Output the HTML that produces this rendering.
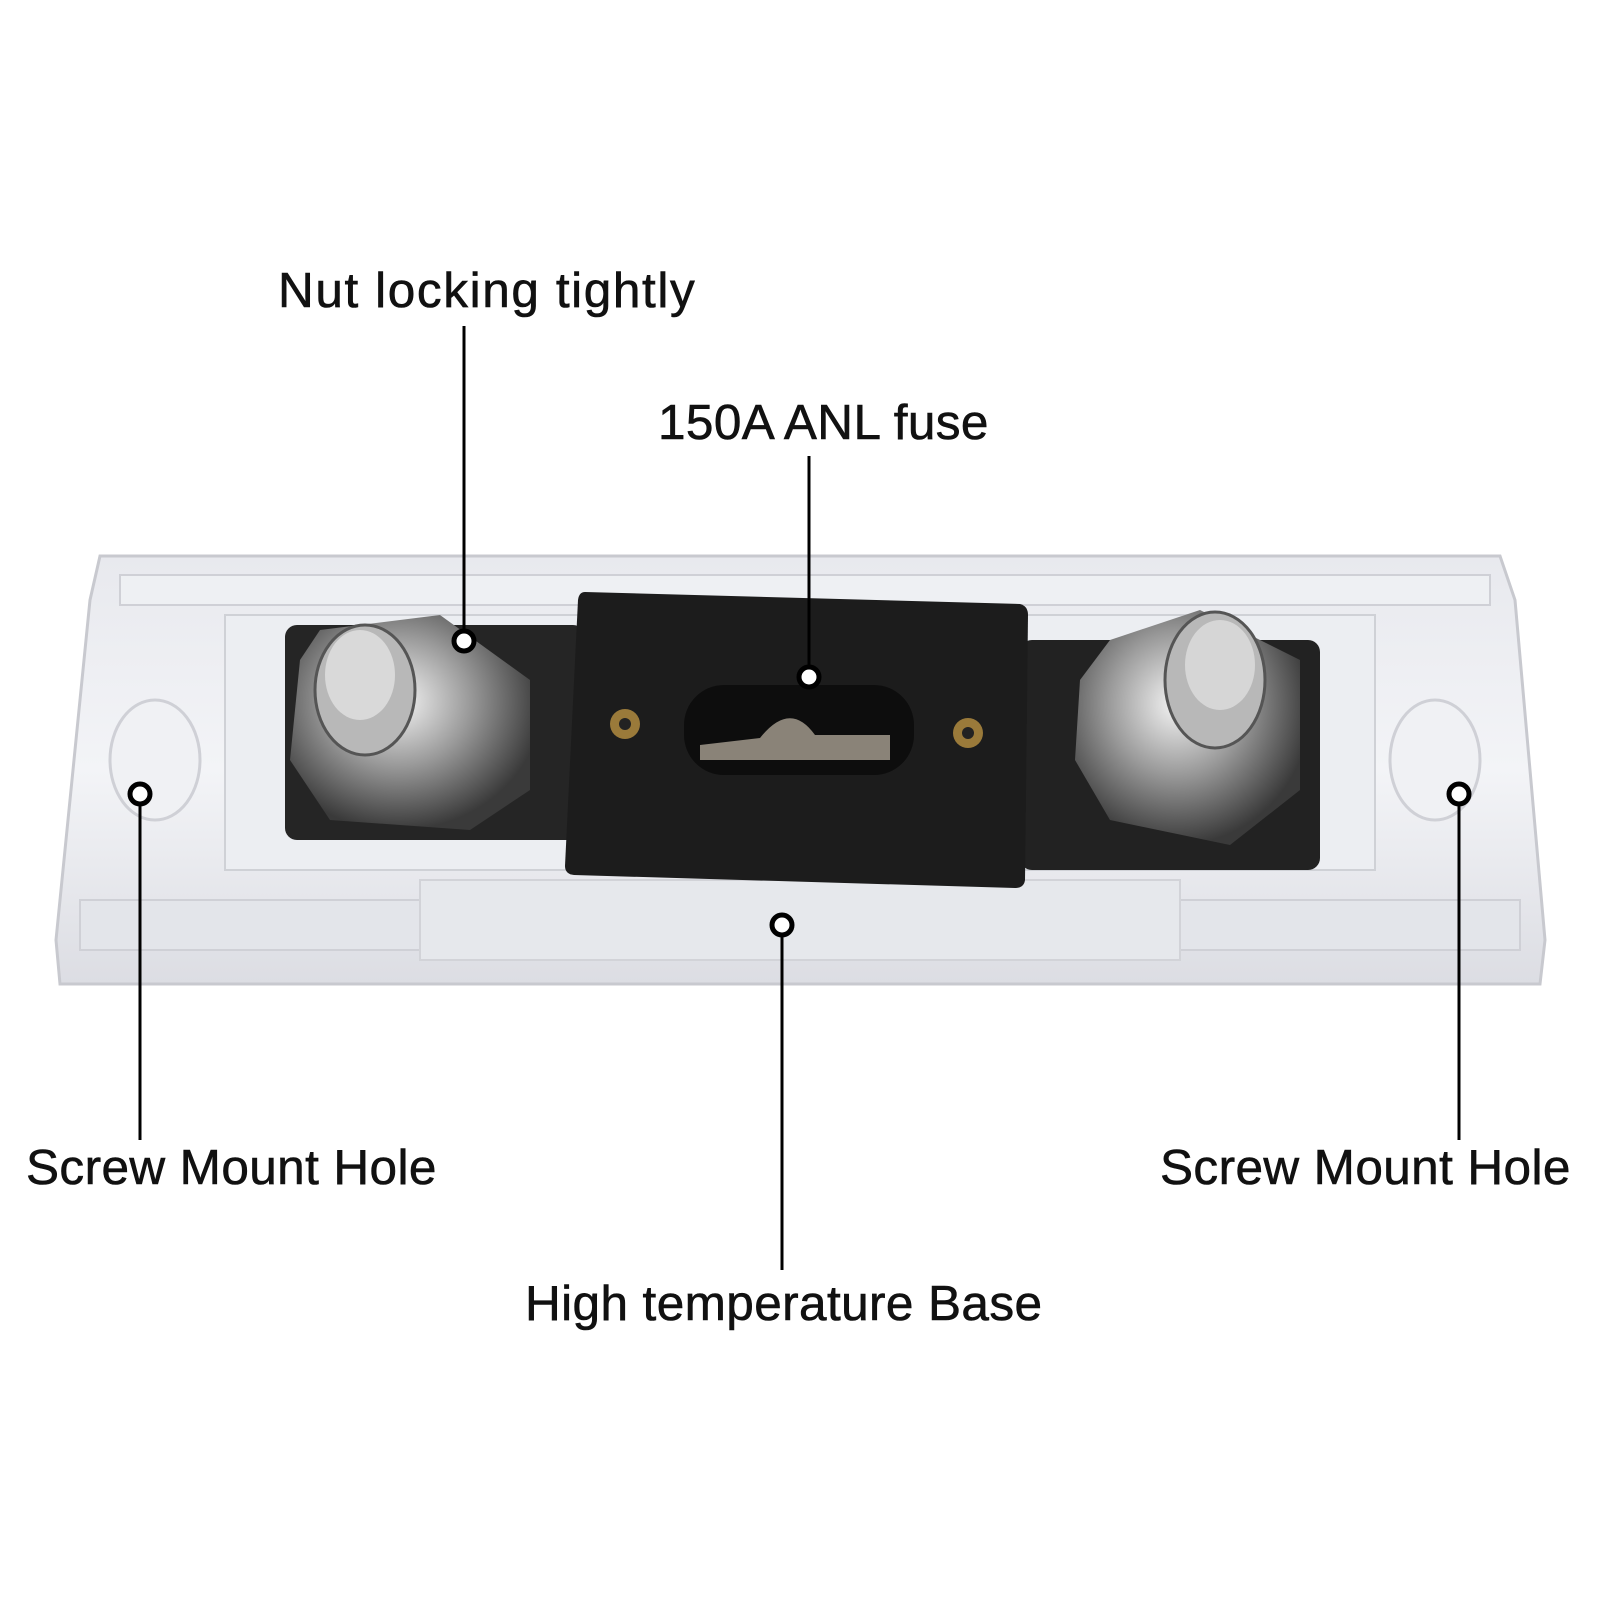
<!DOCTYPE html>
<html><head><style>
html,body{margin:0;padding:0;background:#fff;}
.t{position:absolute;font-family:"Liberation Sans",sans-serif;font-size:49.5px;letter-spacing:0.4px;color:#111;white-space:nowrap;line-height:1;-webkit-text-stroke:0.6px #111;}
</style></head><body>
<div style="position:relative;width:1600px;height:1600px;overflow:hidden;">
<svg width="1600" height="1600" style="position:absolute;left:0;top:0">
<defs>
<linearGradient id="base" x1="0" y1="0" x2="0" y2="1">
<stop offset="0" stop-color="#e8e9ee"/><stop offset="0.5" stop-color="#f3f4f7"/><stop offset="1" stop-color="#dcdde3"/></linearGradient>
<radialGradient id="nut" cx="0.45" cy="0.4" r="0.6">
<stop offset="0" stop-color="#f4f4f4"/><stop offset="0.5" stop-color="#9a9a9a"/><stop offset="1" stop-color="#3a3a3a"/></radialGradient>
</defs>
<path d="M100 556 L1500 556 L1515 600 L1545 940 L1540 984 L60 984 L56 940 L90 600 Z" fill="url(#base)" stroke="#c8c9cf" stroke-width="3"/>
<rect x="120" y="575" width="1370" height="30" fill="#eef0f3" stroke="#cfd0d6" stroke-width="2"/>
<rect x="225" y="615" width="1150" height="255" fill="#eceef2" stroke="#cfd1d6" stroke-width="2"/>
<rect x="80" y="900" width="1440" height="50" fill="#e3e5ea" stroke="#cfd0d6" stroke-width="2"/>
<rect x="420" y="880" width="760" height="80" fill="#e6e8ec" stroke="#d2d3d8" stroke-width="2"/>
<ellipse cx="155" cy="760" rx="45" ry="60" fill="#f0f1f4" stroke="#cfd0d6" stroke-width="3"/>
<ellipse cx="1435" cy="760" rx="45" ry="60" fill="#f0f1f4" stroke="#cfd0d6" stroke-width="3"/>
<rect x="285" y="625" width="300" height="215" rx="12" fill="#252525"/>
<rect x="1020" y="640" width="300" height="230" rx="12" fill="#222"/>
<path d="M320 630 L440 615 L530 680 L530 790 L470 830 L330 820 L290 760 L300 660 Z" fill="url(#nut)"/>
<ellipse cx="365" cy="690" rx="50" ry="65" fill="#b8b8b8" stroke="#555" stroke-width="3"/>
<ellipse cx="360" cy="675" rx="35" ry="45" fill="#d9d9d9"/>
<path d="M1110 640 L1200 610 L1300 660 L1300 790 L1230 845 L1110 820 L1075 760 L1080 680 Z" fill="url(#nut)"/>
<ellipse cx="1215" cy="680" rx="50" ry="68" fill="#b8b8b8" stroke="#555" stroke-width="3"/>
<ellipse cx="1220" cy="665" rx="35" ry="45" fill="#d6d6d6"/>
<path d="M585 592 L1020 604 Q1028 606 1028 615 L1025 880 Q1024 888 1015 888 L574 875 Q565 874 565 866 L578 600 Q579 592 585 592 Z" fill="#1c1c1c"/>
<rect x="684" y="685" width="230" height="90" rx="40" fill="#0d0d0d"/>
<path d="M700 745 L760 738 Q790 700 815 735 L890 735 L890 760 L700 760 Z" fill="#8a8378"/>
<circle cx="625" cy="724" r="15" fill="#9a7a3a"/><circle cx="625" cy="724" r="6" fill="#222"/>
<circle cx="968" cy="733" r="15" fill="#9a7a3a"/><circle cx="968" cy="733" r="6" fill="#222"/>
<g stroke="#000" stroke-width="3">
<line x1="464" y1="326" x2="464" y2="641"/>
<line x1="809" y1="456" x2="809" y2="677"/>
<line x1="782" y1="925" x2="782" y2="1270"/>
<line x1="140" y1="794" x2="140" y2="1140"/>
<line x1="1459" y1="794" x2="1459" y2="1140"/>
</g>
<g fill="#fff" stroke="#000" stroke-width="5">
<circle cx="464" cy="641" r="10"/>
<circle cx="809" cy="677" r="10"/>
<circle cx="782" cy="925" r="10"/>
<circle cx="140" cy="794" r="10"/>
<circle cx="1459" cy="794" r="10"/>
</g>
</svg>
<div class="t" style="left:278px;top:266px;letter-spacing:1.6px;">Nut locking tightly</div>
<div class="t" style="left:658px;top:398px;">150A ANL fuse</div>
<div class="t" style="left:26px;top:1143px;">Screw Mount Hole</div>
<div class="t" style="left:1160px;top:1143px;">Screw Mount Hole</div>
<div class="t" style="left:525px;top:1279px;">High temperature Base</div>
</div>
</body></html>
